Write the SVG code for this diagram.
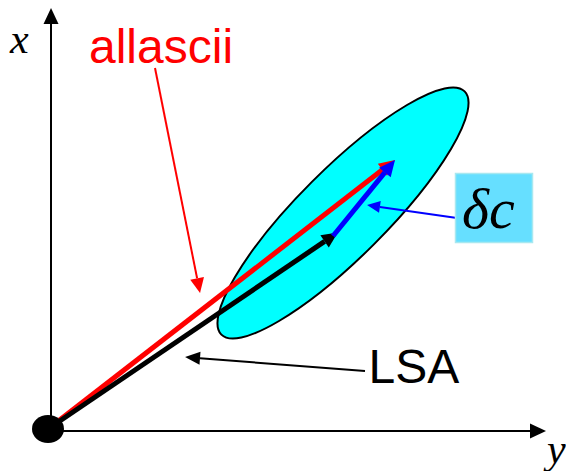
<svg xmlns="http://www.w3.org/2000/svg" width="566" height="471" viewBox="0 0 566 471">
<style>
.axis{stroke:#000;stroke-width:2;fill:none}
.thick{stroke-width:5;fill:none}
.thin{stroke-width:2;fill:none}
.sans{font-family:"Liberation Sans",Arial,sans-serif}
.serif{font-family:"Liberation Serif","Times New Roman",serif;font-style:italic}
</style>
<defs>
<marker id="hk" markerUnits="userSpaceOnUse" markerWidth="16" markerHeight="15" refX="0" refY="7.5" orient="auto" overflow="visible"><path d="M0,0 L16,7.5 L0,15 z" fill="#000"/></marker>
<marker id="hr" markerUnits="userSpaceOnUse" markerWidth="16" markerHeight="15" refX="0" refY="7.5" orient="auto" overflow="visible"><path d="M0,0 L16,7.5 L0,15 z" fill="#f00"/></marker>
<marker id="hb" markerUnits="userSpaceOnUse" markerWidth="16" markerHeight="15" refX="0" refY="7.5" orient="auto" overflow="visible"><path d="M0,0 L16,7.5 L0,15 z" fill="#00f"/></marker>
<marker id="sk" markerUnits="userSpaceOnUse" markerWidth="15" markerHeight="13" refX="0" refY="6.5" orient="auto" overflow="visible"><path d="M0,0 L15,6.5 L0,13 z" fill="#000"/></marker>
<marker id="sr" markerUnits="userSpaceOnUse" markerWidth="15" markerHeight="14" refX="0" refY="7" orient="auto" overflow="visible"><path d="M0,0 L15,7 L0,14 z" fill="#f00"/></marker>
<marker id="sb" markerUnits="userSpaceOnUse" markerWidth="13" markerHeight="12" refX="0" refY="6" orient="auto" overflow="visible"><path d="M0,0 L13,6 L0,12 z" fill="#00f"/></marker>
</defs>
<g id="axes">
<line class="axis" x1="51" y1="431" x2="51" y2="24" marker-end="url(#hk)"/>
<line class="axis" x1="48" y1="431" x2="530" y2="431" marker-end="url(#hk)"/>
<text class="serif" x="10" y="53" font-size="42">x</text>
<text class="serif" x="547" y="463" font-size="42">y</text>
</g>
<g id="ellipse">
<ellipse cx="343" cy="213" rx="172" ry="44" transform="rotate(-45 343 213)" fill="#00ffff" stroke="#000" stroke-width="2"/>
</g>
<g id="connectors">
<line class="thick" stroke="#f00" x1="48" y1="429" x2="382.4" y2="169.8" marker-end="url(#hr)"/>
<line class="thick" stroke="#000" x1="48" y1="429" x2="324.6" y2="241.4" marker-end="url(#hk)"/>
<line class="thick" stroke="#00f" x1="333" y1="236" x2="384.9" y2="172.4" marker-end="url(#hb)"/>
<line class="thin" stroke="#f00" x1="155" y1="68" x2="197.1" y2="278.3" marker-end="url(#sr)"/>
<line class="thin" stroke="#000" x1="365" y1="371" x2="200" y2="358.2" marker-end="url(#sk)"/>
<line class="thin" stroke="#00f" x1="457" y1="218" x2="379.9" y2="206.9" marker-end="url(#sb)"/>
</g>
<g id="origin">
<ellipse cx="48" cy="429" rx="16" ry="14" fill="#000"/>
</g>
<g id="allascii">
<text class="sans" x="89" y="63" font-size="48" fill="#f00">allascii</text>
</g>
<g id="lsa">
<text class="sans" x="368.5" y="383" font-size="48" fill="#000">LSA</text>
</g>
<g id="deltac">
<rect x="455.5" y="173.5" width="77" height="69" fill="#66dfff" stroke="#a8e8f0" stroke-width="1.5"/>
<text class="serif" x="462" y="228" font-size="58" fill="#000">δc</text>
</g>
</svg>
